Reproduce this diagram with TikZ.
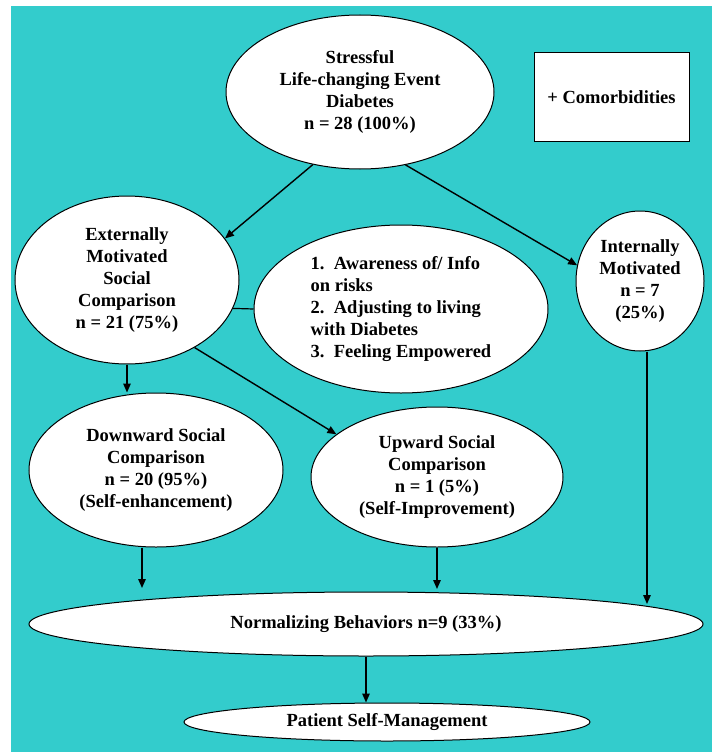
\documentclass[tikz,border=0pt]{standalone}
\usepackage{fontspec}
\setmainfont{Liberation Serif}
\usepackage{tikz}
\usetikzlibrary{arrows.meta,shapes.geometric}
\definecolor{bgcol}{HTML}{33CCCC}
\tikzset{
  bubble/.style 2 args={
    ellipse, draw=black, fill=white, line width=1pt,
    inner sep=0pt, minimum width=#1, minimum height=#2,
    align=center, font=\fontsize{18.5}{22}\selectfont\bfseries,
  },
  box/.style={
    rectangle, draw=black, fill=white, line width=1pt,
    inner sep=0pt, minimum width=155pt, minimum height=88pt,
    font=\fontsize{18.5}{22}\selectfont\bfseries,
  },
  arr/.style={-{Triangle[length=9pt,width=7.5pt]}, line width=1.4pt},
  link/.style={line width=1.2pt},
}

\begin{document}
\begin{tikzpicture}[x=1pt,y=-1pt]

% ===== Background =====
\useasboundingbox (0,0) rectangle (712,752);
\fill[white] (0,0) rectangle (712,752);
\fill[bgcol] (11,6) rectangle (712,752);

% ===== Top row =====
\node[bubble={268pt}{154pt}] (stress) at (360,92)
  {Stressful\\Life-changing Event\\Diabetes\\n = 28 (100\%)};
\node[box] (como) at (611.5,97) {+ Comorbidities};

% ===== Motivation =====
\node[bubble={224pt}{168pt}] (extern) at (127,280)
  {Externally\\Motivated\\Social\\Comparison\\n = 21 (75\%)};
\node[bubble={294pt}{168pt}, align=left] (themes) at (401,309)
  {1.\ \ Awareness of/ Info\\on risks\\2.\ \ Adjusting to living\\with Diabetes\\3.\ \ Feeling Empowered};
\node[bubble={128pt}{140pt}] (intern) at (640,281)
  {Internally\\Motivated\\n = 7\\(25\%)};

\draw[arr] (stress.237) -- (extern.23);
\draw[arr] (stress.302) -- (intern.166);
\draw[link] (extern.-15) -- (themes.west);

% ===== Social comparison =====
\node[bubble={254pt}{154pt}] (down) at (156,470)
  {Downward Social\\Comparison\\n = 20 (95\%)\\(Self-enhancement)};
\node[bubble={252pt}{140pt}] (up) at (437,477)
  {Upward Social\\Comparison\\n = 1 (5\%)\\(Self-Improvement)};

\draw[arr] (extern.south) -- (extern.south |- down.north);
\draw[arr] (extern.315) -- (up.157);

% ===== Outcome =====
\node[bubble={674pt}{64pt}] (norm) at (366,624) {Normalizing Behaviors n=9 (33\%)};
\node[bubble={406pt}{38pt}] (selfman) at (387,722) {Patient Self-Management};

\coordinate (n1) at (142,588);
\coordinate (n2) at (437,589);
\coordinate (n3) at (647,604);
\draw[arr] (n1 |- down.south) -- (n1);
\draw[arr] (up.south) -- (n2);
\draw[arr] (n3 |- intern.south) -- (n3);
\draw[arr] (norm.south) -- (norm.south |- selfman.north);

\end{tikzpicture}
\end{document}
